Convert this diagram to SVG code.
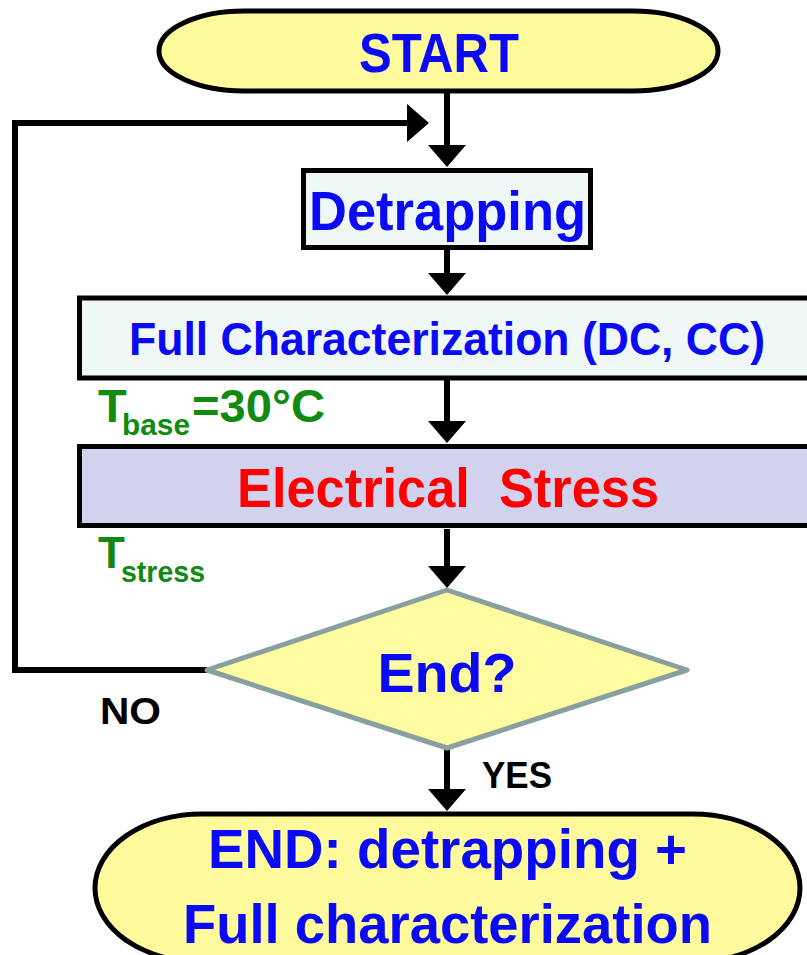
<svg xmlns="http://www.w3.org/2000/svg" width="807" height="955" viewBox="0 0 807 955">
<style>
.t{font-family:"Liberation Sans",Arial,sans-serif;font-weight:bold}
.blue{fill:#0A0AF5}
.green{fill:#108A10}
.box{stroke:#000;stroke-width:5}
.conn{fill:none;stroke:#000;stroke-width:6}
</style>
<defs>
<marker id="ah" viewBox="0 0 22 38" refX="1" refY="19" markerWidth="22" markerHeight="38" markerUnits="userSpaceOnUse" orient="auto">
<path d="M0,0 L22,19 L0,38 z" fill="#000"/>
</marker>
</defs>
<rect width="807" height="955" fill="#fff"/>
<g id="connectors">
<line class="conn" x1="447" y1="91" x2="447" y2="146" marker-end="url(#ah)"/>
<line class="conn" x1="447" y1="250" x2="447" y2="274" marker-end="url(#ah)"/>
<line class="conn" x1="447" y1="380" x2="447" y2="422" marker-end="url(#ah)"/>
<line class="conn" x1="447" y1="529" x2="447" y2="567" marker-end="url(#ah)"/>
<line class="conn" x1="447" y1="748" x2="447" y2="790" marker-end="url(#ah)"/>
<polyline class="conn" points="207,670 15,670 15,123 408,123" marker-end="url(#ah)"/>
</g>
<g id="start">
<rect class="box" x="159" y="11" width="559" height="80" rx="85" ry="40" fill="#FFFB9D"/>
<text class="t blue" x="439" y="72" font-size="56" text-anchor="middle" textLength="160" lengthAdjust="spacingAndGlyphs">START</text>
</g>
<g id="detrapping">
<rect class="box" x="303.5" y="170.5" width="287" height="77" fill="#EFF8F7"/>
<text class="t blue" x="447.5" y="230" font-size="55" text-anchor="middle" textLength="277" lengthAdjust="spacingAndGlyphs">Detrapping</text>
</g>
<g id="fullchar">
<rect class="box" x="79.5" y="298" width="740" height="80" fill="#EFF8F7"/>
<text class="t blue" x="447" y="355" font-size="46" text-anchor="middle" textLength="636" lengthAdjust="spacingAndGlyphs">Full Characterization (DC, CC)</text>
</g>
<g id="tbase">
<text class="t green" x="98" y="422" font-size="47">T</text>
<text class="t green" x="122" y="435" font-size="30" textLength="68" lengthAdjust="spacingAndGlyphs">base</text>
<text class="t green" x="192" y="422" font-size="47" textLength="133" lengthAdjust="spacingAndGlyphs">=30°C</text>
</g>
<g id="stress">
<rect class="box" x="79.5" y="446.5" width="740" height="79" fill="#D1D2EE"/>
<text class="t" fill="#FF0000" x="448" y="507" font-size="56" text-anchor="middle" textLength="422" lengthAdjust="spacingAndGlyphs" xml:space="preserve">Electrical  Stress</text>
</g>
<g id="tstress">
<text class="t green" x="98" y="568" font-size="44">T</text>
<text class="t green" x="121" y="582" font-size="30" textLength="84" lengthAdjust="spacingAndGlyphs">stress</text>
</g>
<g id="decision">
<polygon points="447,590 687,670 447,748 207,670" fill="#FFFBA0" stroke="#8AA0A0" stroke-width="5" stroke-linejoin="round"/>
<text class="t blue" x="447" y="692" font-size="56" text-anchor="middle" textLength="139" lengthAdjust="spacingAndGlyphs">End?</text>
</g>
<g id="no-label">
<text class="t" fill="#000" x="100" y="724" font-size="36" textLength="61" lengthAdjust="spacingAndGlyphs">NO</text>
</g>
<g id="yes-label">
<text class="t" fill="#000" x="482" y="788" font-size="36" textLength="70" lengthAdjust="spacingAndGlyphs">YES</text>
</g>
<g id="end">
<rect class="box" x="95" y="814" width="705" height="148" rx="107" ry="74" fill="#FFFB9D"/>
<text class="t blue" x="447.5" y="868" font-size="55" text-anchor="middle" textLength="479" lengthAdjust="spacingAndGlyphs">END: detrapping +</text>
<text class="t blue" x="447.5" y="943" font-size="55" text-anchor="middle" textLength="529" lengthAdjust="spacingAndGlyphs">Full characterization</text>
</g>
</svg>
